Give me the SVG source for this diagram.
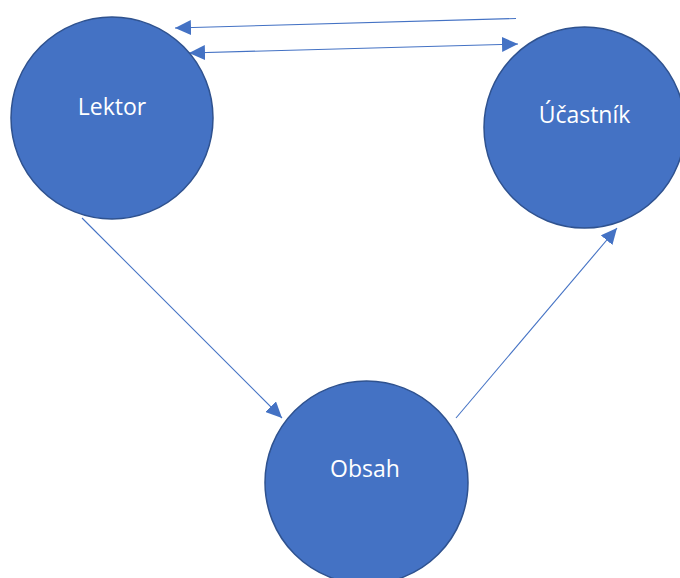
<svg xmlns="http://www.w3.org/2000/svg" width="680" height="578" viewBox="0 0 680 578">
<defs>
<style>
.node circle{fill:#4472c4;stroke:#2f528f;stroke-width:1.5}
.node text{fill:#ffffff;font-family:"Open Sans","Noto Sans","Liberation Sans",sans-serif;font-size:23px;text-anchor:middle}
.conn line{stroke:#4472c4;stroke-width:1.1;fill:none}
</style>
<marker id="ah" viewBox="0 0 16 15" refX="16" refY="7.5" markerWidth="16" markerHeight="15" markerUnits="userSpaceOnUse" orient="auto-start-reverse">
<path d="M0,0 L16,7.5 L0,15 Z" fill="#4472c4"/>
</marker>
</defs>
<rect width="680" height="578" fill="#ffffff"/>
<g id="connectors" class="conn">
<line x1="516" y1="18.5" x2="175" y2="28" marker-end="url(#ah)"/>
<line x1="189" y1="53" x2="518" y2="44" marker-start="url(#ah)" marker-end="url(#ah)"/>
<line x1="82" y1="218" x2="282" y2="418" marker-end="url(#ah)"/>
<line x1="456" y1="418" x2="617" y2="228" marker-end="url(#ah)"/>
</g>
<g id="lektor" class="node">
<circle cx="112" cy="118" r="101"/>
<text x="112" y="115">Lektor</text>
</g>
<g id="ucastnik" class="node">
<circle cx="584.5" cy="127.5" r="100.5"/>
<text x="584.5" y="123">Účastník</text>
</g>
<g id="obsah" class="node">
<circle cx="366.5" cy="482.5" r="101.5"/>
<text x="365" y="477">Obsah</text>
</g>
</svg>
